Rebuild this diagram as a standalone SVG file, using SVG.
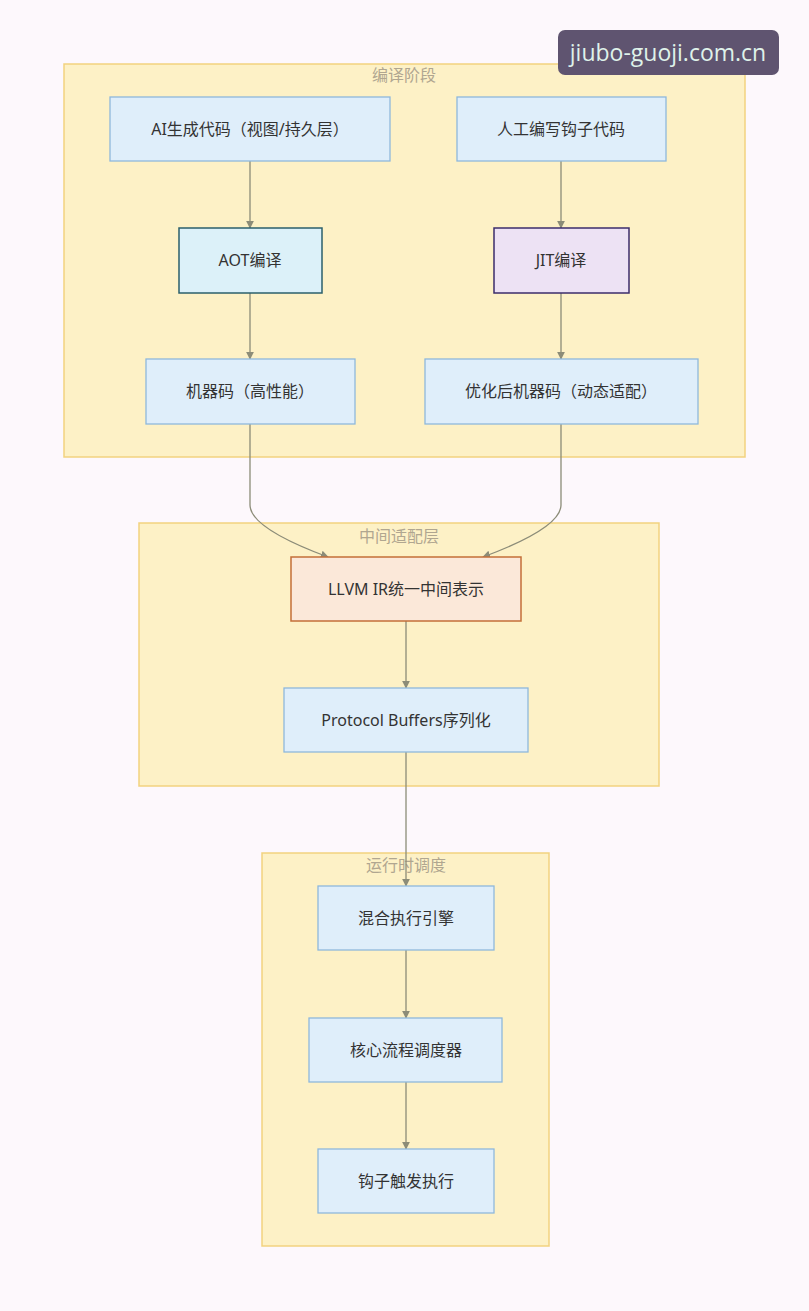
<svg xmlns="http://www.w3.org/2000/svg" width="809" height="1311" viewBox="0 0 809 1311">
<style>
.cl{fill:#fdf1c6;stroke:#f2d27f;stroke-width:1.5}
.ct{font-family:"Noto Sans","Noto Sans CJK SC",sans-serif;font-size:16px;fill:#b0a690;text-anchor:middle}
.n{fill:#dfeefa;stroke:#8fb8dc;stroke-width:1.3}
.t{font-family:"Noto Sans","Noto Sans CJK SC",sans-serif;font-size:16px;fill:#333;text-anchor:middle;dominant-baseline:central}
.e{fill:none;stroke:#8c8c78;stroke-width:1.3;marker-end:url(#ah)}
</style>
<defs>
<marker id="ah" viewBox="0 0 10 10" refX="9" refY="5" markerWidth="8" markerHeight="8" orient="auto-start-reverse" markerUnits="userSpaceOnUse">
<path d="M0,0 L10,5 L0,10 z" fill="#8c8c78"/>
</marker>
</defs>
<rect width="809" height="1311" fill="#fdf8fc"/>
<g id="cluster-compile"><rect class="cl" x="64" y="64" width="681" height="393"/><text class="ct" x="404" y="81">编译阶段</text></g>
<g id="cluster-middle"><rect class="cl" x="139" y="523" width="520" height="263"/><text class="ct" x="399" y="542">中间适配层</text></g>
<g id="cluster-runtime"><rect class="cl" x="262" y="853" width="287" height="393"/><text class="ct" x="406" y="871">运行时调度</text></g>
<g id="edges">
<path class="e" d="M250,161 V228"/>
<path class="e" d="M561,161 V228"/>
<path class="e" d="M250,293 V359"/>
<path class="e" d="M561,293 V359"/>
<path class="e" d="M250,424 V505 Q250,528 328,557"/>
<path class="e" d="M561,424 V505 Q561,528 483,557"/>
<path class="e" d="M406,621 V688"/>
<path class="e" d="M406,752 V886"/>
<path class="e" d="M406,950 V1018"/>
<path class="e" d="M406,1082 V1149"/>
</g>
<g id="n-ai"><rect class="n" x="110" y="97" width="280" height="64"/><text class="t" x="250" y="129">AI生成代码（视图/持久层）</text></g>
<g id="n-hook"><rect class="n" x="457" y="97" width="209" height="64"/><text class="t" x="561" y="129">人工编写钩子代码</text></g>
<g id="n-aot"><rect x="179" y="228" width="143" height="65" fill="#dcf1f9" stroke="#2b5f6b" stroke-width="1.5"/><text class="t" x="250" y="260">AOT编译</text></g>
<g id="n-jit"><rect x="494" y="228" width="135" height="65" fill="#ede2f4" stroke="#3b2d6b" stroke-width="1.5"/><text class="t" x="561" y="260">JIT编译</text></g>
<g id="n-mc"><rect class="n" x="146" y="359" width="209" height="65"/><text class="t" x="250" y="391">机器码（高性能）</text></g>
<g id="n-omc"><rect class="n" x="425" y="359" width="273" height="65"/><text class="t" x="561" y="391">优化后机器码（动态适配）</text></g>
<g id="n-llvm"><rect x="291" y="557" width="230" height="64" fill="#fbe8d9" stroke="#c36f38" stroke-width="1.5"/><text class="t" x="406" y="589">LLVM IR统一中间表示</text></g>
<g id="n-pb"><rect class="n" x="284" y="688" width="244" height="64"/><text class="t" x="406" y="720">Protocol Buffers序列化</text></g>
<g id="n-mix"><rect class="n" x="318" y="886" width="176" height="64"/><text class="t" x="406" y="918">混合执行引擎</text></g>
<g id="n-core"><rect class="n" x="309" y="1018" width="193" height="64"/><text class="t" x="406" y="1050">核心流程调度器</text></g>
<g id="n-trig"><rect class="n" x="318" y="1149" width="176" height="64"/><text class="t" x="406" y="1181">钩子触发执行</text></g>
<g id="watermark"><rect x="558" y="30" width="221" height="45" rx="7" fill="#5f5470"/><text x="668" y="61" font-family="Open Sans, sans-serif" font-size="23" fill="#dff2ea" text-anchor="middle">jiubo-guoji.com.cn</text></g>
</svg>
